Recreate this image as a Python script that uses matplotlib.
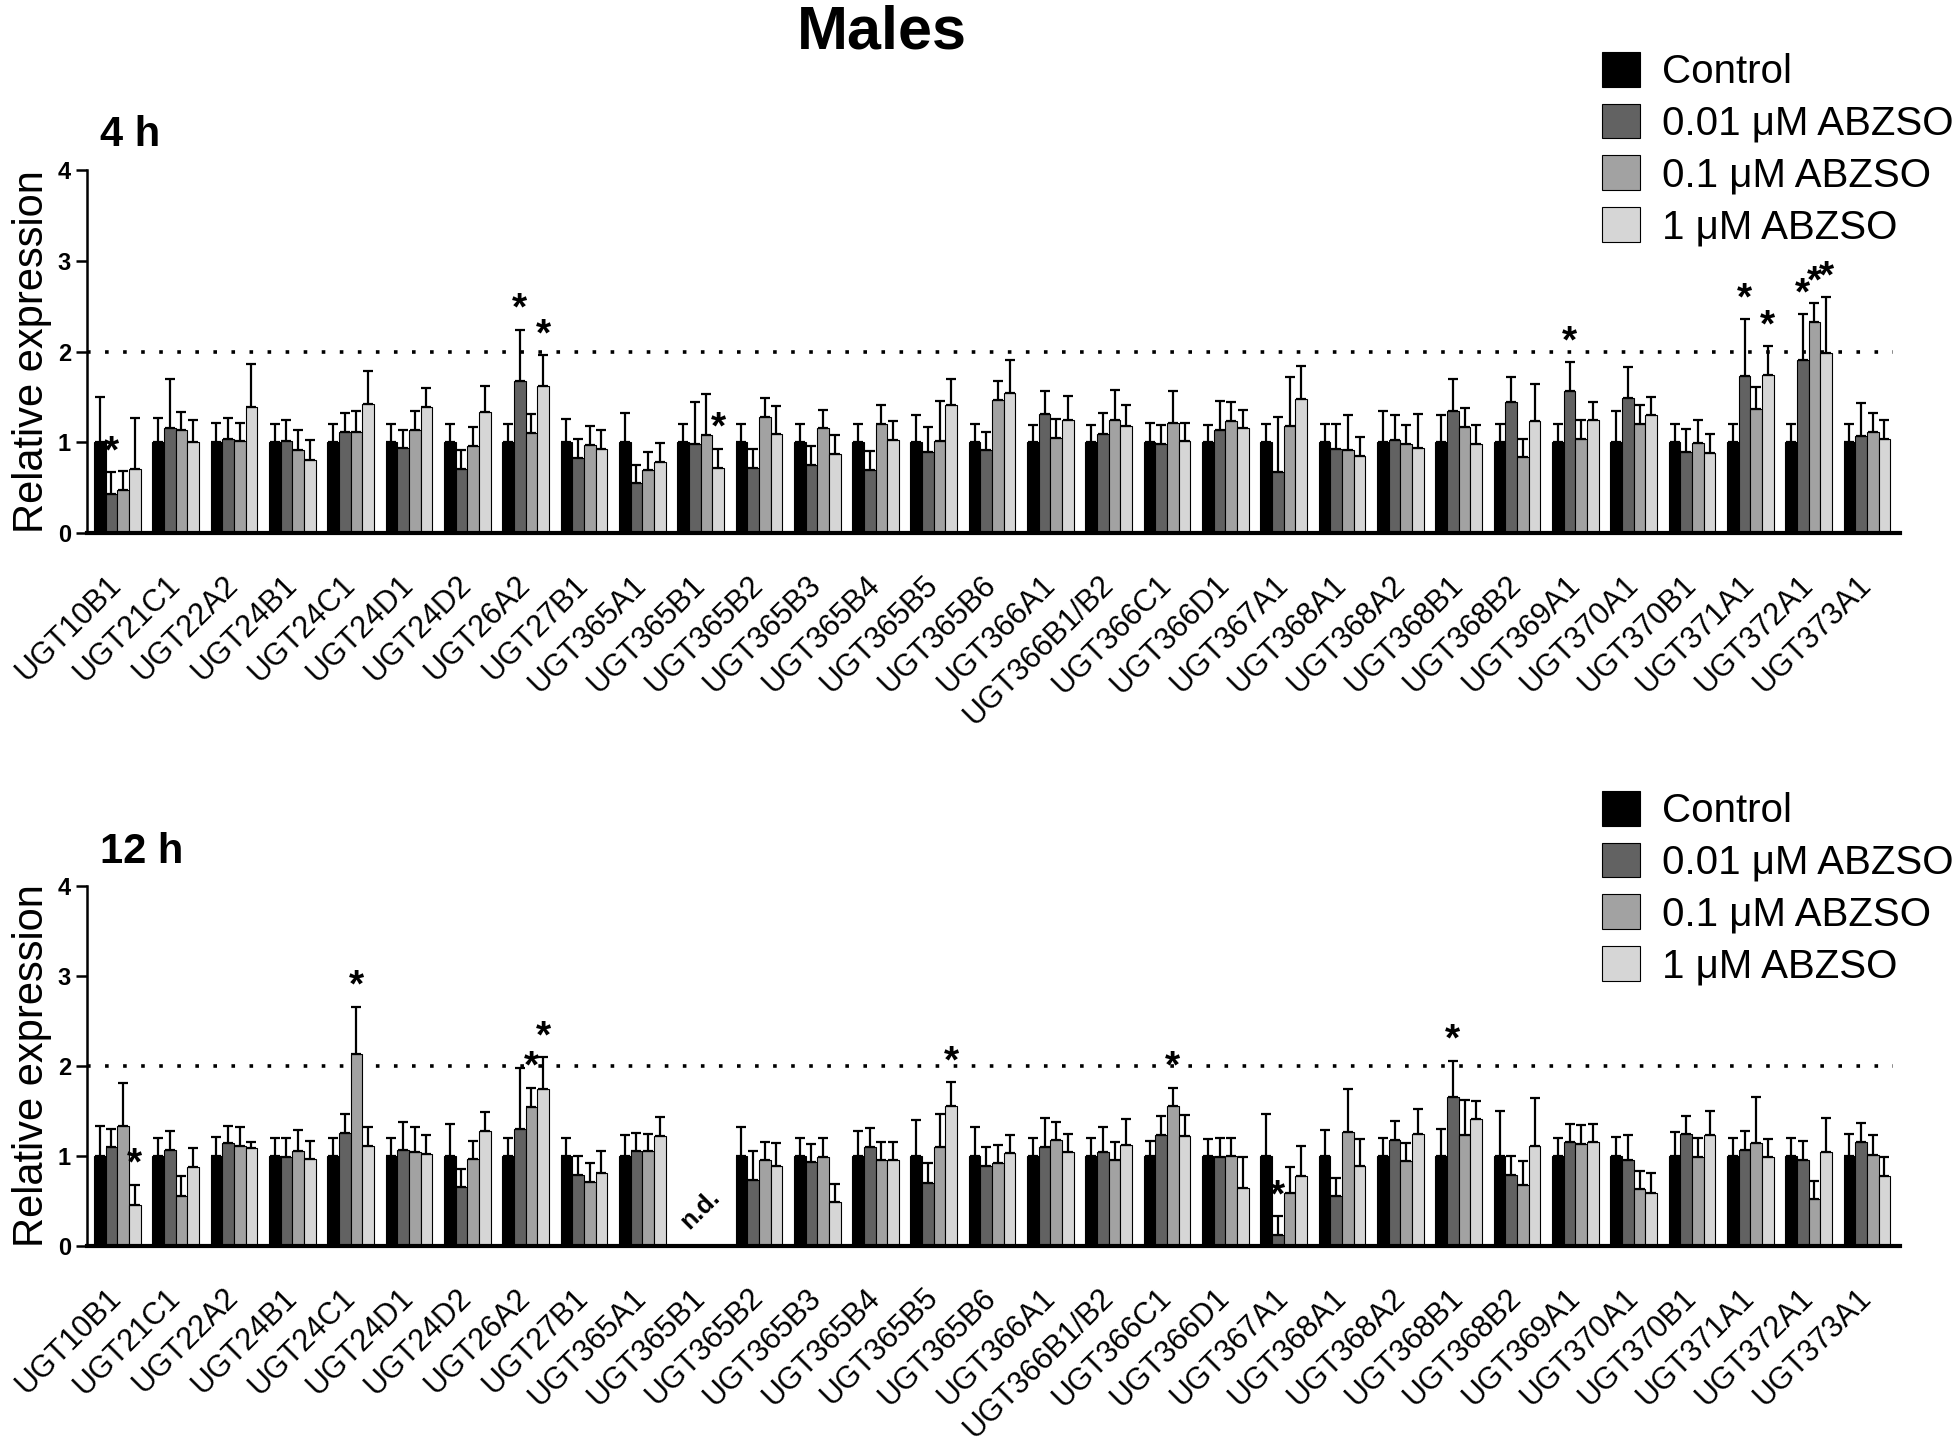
import numpy as np
import matplotlib as mpl
import matplotlib.pyplot as plt
from matplotlib.patches import Patch

mpl.use("Agg")
plt.rcParams['font.family'] = ['Liberation Sans', 'DejaVu Sans']

genes = ["UGT10B1", "UGT21C1", "UGT22A2", "UGT24B1", "UGT24C1", "UGT24D1", "UGT24D2",
         "UGT26A2", "UGT27B1", "UGT365A1", "UGT365B1", "UGT365B2", "UGT365B3", "UGT365B4",
         "UGT365B5", "UGT365B6", "UGT366A1", "UGT366B1/B2", "UGT366C1", "UGT366D1",
         "UGT367A1", "UGT368A1", "UGT368A2", "UGT368B1", "UGT368B2", "UGT369A1",
         "UGT370A1", "UGT370B1", "UGT371A1", "UGT372A1", "UGT373A1"]
groups = ["Control", "0.01 \u03bcM ABZSO", "0.1 \u03bcM ABZSO", "1 \u03bcM ABZSO"]
colors = ["#000000", "#626262", "#a2a2a2", "#d6d6d6"]
nan = np.nan

# ---- 4 h ----
h4_ctrl = [1.0] * 31
h4_ctrl_sd = [0.50, 0.27, 0.21, 0.20, 0.20, 0.20, 0.20, 0.20, 0.26, 0.32, 0.20, 0.20, 0.20, 0.20, 0.30, 0.20,
              0.19, 0.19, 0.21, 0.19, 0.20, 0.20, 0.35, 0.30, 0.20, 0.20, 0.35, 0.20, 0.20, 0.20, 0.20]
h4_001 = [0.43, 1.16, 1.04, 1.01, 1.11, 0.94, 0.71, 1.67, 0.83, 0.55, 0.98, 0.72, 0.75, 0.70, 0.89, 0.91,
          1.31, 1.09, 0.98, 1.13, 0.67, 0.93, 1.02, 1.35, 1.44, 1.57, 1.49, 0.89, 1.73, 1.91, 1.07]
h4_001_sd = [0.24, 0.54, 0.23, 0.24, 0.21, 0.20, 0.21, 0.57, 0.21, 0.20, 0.46, 0.21, 0.21, 0.20, 0.28, 0.20,
             0.25, 0.23, 0.21, 0.33, 0.61, 0.27, 0.28, 0.35, 0.28, 0.31, 0.34, 0.26, 0.63, 0.50, 0.36]
h4_01 = [0.47, 1.13, 1.01, 0.92, 1.11, 1.13, 0.96, 1.10, 0.97, 0.69, 1.08, 1.28, 1.16, 1.20, 1.01, 1.47,
         1.05, 1.25, 1.21, 1.23, 1.18, 0.91, 0.98, 1.17, 0.84, 1.04, 1.20, 0.99, 1.37, 2.33, 1.11]
h4_01_sd = [0.21, 0.20, 0.20, 0.21, 0.23, 0.21, 0.21, 0.21, 0.21, 0.20, 0.45, 0.21, 0.20, 0.21, 0.45, 0.21,
            0.21, 0.33, 0.35, 0.21, 0.54, 0.39, 0.21, 0.21, 0.20, 0.20, 0.21, 0.25, 0.24, 0.21, 0.21]
h4_1 = [0.71, 1.00, 1.39, 0.81, 1.42, 1.39, 1.33, 1.62, 0.93, 0.78, 0.72, 1.09, 0.87, 1.03, 1.41, 1.54,
        1.25, 1.18, 1.01, 1.16, 1.48, 0.85, 0.94, 0.98, 1.23, 1.24, 1.30, 0.88, 1.74, 1.98, 1.04]
h4_1_sd = [0.56, 0.24, 0.47, 0.21, 0.36, 0.21, 0.29, 0.34, 0.20, 0.21, 0.21, 0.31, 0.21, 0.20, 0.29, 0.37,
           0.26, 0.23, 0.20, 0.20, 0.36, 0.21, 0.37, 0.21, 0.41, 0.20, 0.20, 0.21, 0.32, 0.62, 0.20]
h4_sig = [(0, 1), (7, 1), (7, 3), (10, 3), (25, 1), (28, 1), (28, 3), (29, 1), (29, 2), (29, 3)]

# ---- 12 h ---- (UGT365B1 not detected)
h12_ctrl = [1.0] * 10 + [nan] + [1.0] * 20
h12_ctrl_sd = [0.33, 0.20, 0.21, 0.20, 0.20, 0.20, 0.36, 0.20, 0.20, 0.23, nan, 0.32, 0.20, 0.28, 0.40, 0.32,
               0.20, 0.20, 0.17, 0.19, 0.47, 0.29, 0.20, 0.30, 0.50, 0.20, 0.21, 0.27, 0.20, 0.20, 0.24]
h12_001 = [1.10, 1.07, 1.14, 0.99, 1.26, 1.07, 0.66, 1.30, 0.79, 1.06, nan, 0.73, 0.93, 1.10, 0.70, 0.89,
           1.10, 1.04, 1.23, 0.99, 0.12, 0.55, 1.18, 1.66, 0.79, 1.15, 0.96, 1.24, 1.07, 0.96, 1.16]
h12_001_sd = [0.20, 0.21, 0.19, 0.21, 0.21, 0.31, 0.20, 0.68, 0.21, 0.20, nan, 0.33, 0.20, 0.21, 0.22, 0.21,
              0.32, 0.28, 0.21, 0.21, 0.21, 0.20, 0.21, 0.40, 0.21, 0.21, 0.27, 0.20, 0.21, 0.21, 0.21]
h12_01 = [1.33, 0.56, 1.11, 1.05, 2.13, 1.04, 0.97, 1.54, 0.71, 1.05, nan, 0.95, 0.99, 0.95, 1.10, 0.92,
          1.18, 0.95, 1.56, 1.00, 0.59, 1.27, 0.94, 1.23, 0.68, 1.13, 0.63, 0.99, 1.14, 0.52, 1.01]
h12_01_sd = [0.48, 0.22, 0.21, 0.24, 0.53, 0.28, 0.20, 0.22, 0.21, 0.19, nan, 0.20, 0.21, 0.20, 0.37, 0.20,
             0.20, 0.20, 0.20, 0.20, 0.29, 0.47, 0.20, 0.39, 0.26, 0.21, 0.20, 0.21, 0.52, 0.20, 0.22]
h12_1 = [0.46, 0.88, 1.09, 0.97, 1.11, 1.02, 1.28, 1.74, 0.81, 1.22, nan, 0.89, 0.49, 0.95, 1.56, 1.03,
         1.04, 1.12, 1.22, 0.64, 0.78, 0.89, 1.24, 1.41, 1.11, 1.16, 0.59, 1.23, 0.99, 1.04, 0.78]
h12_1_sd = [0.22, 0.21, 0.07, 0.20, 0.21, 0.21, 0.21, 0.36, 0.24, 0.21, nan, 0.25, 0.20, 0.20, 0.26, 0.20,
            0.20, 0.29, 0.24, 0.35, 0.33, 0.30, 0.28, 0.20, 0.53, 0.20, 0.22, 0.27, 0.20, 0.38, 0.21]
h12_sig = [(0, 3), (4, 2), (7, 2), (7, 3), (14, 3), (18, 2), (20, 1), (23, 1)]
h12_nd = [10]

fig = plt.figure(figsize=(19.59, 14.52), dpi=100)
fig.text(0.45, 0.997, "Males", ha="center", va="top", fontsize=44, fontweight="bold")

W = 0.2
x = np.arange(len(genes))


def panel(rect, means, sds, sig, label, legend_top, nd=()):
    ax = fig.add_axes(rect)
    for k, (m, s) in enumerate(zip(means, sds)):
        xs = x - 0.3 + k * W
        ax.bar(xs, m, W, color=colors[k], edgecolor="black", linewidth=0.8, zorder=2)
        ax.errorbar(xs, m, yerr=[np.zeros(len(s)), s], fmt="none", ecolor="black",
                    elinewidth=1.6, capsize=3.5, capthick=1.6, zorder=3)
    for g, k in sig:
        top = means[k][g] + sds[k][g]
        ax.text(x[g] - 0.3 + k * W, top + 0.02, "*", ha="center", va="bottom",
                fontsize=28, fontweight="bold", clip_on=False)
    for g in nd:
        ax.text(x[g], 0.41, "n.d.", ha="center", va="center", rotation=45,
                fontsize=18, fontweight="bold")
    ax.axhline(2, color="black", ls=(0, (1, 4)), lw=2.6, xmax=0.996, zorder=1)
    ax.set_xlim(-0.52, 30.57)
    ax.set_ylim(0, 4)
    ax.set_yticks([0, 1, 2, 3, 4])
    ax.set_yticklabels(["0", "1", "2", "3", "4"], fontweight="bold", fontsize=17)
    ax.set_xticks(x)
    ax.set_xticklabels(genes, rotation=45, ha="right", va="center",
                       rotation_mode="anchor", fontsize=22)
    ax.tick_params(axis="x", length=0, pad=34)
    ax.tick_params(axis="y", length=8, width=1.8, direction="out")
    for sp in ["top", "right"]:
        ax.spines[sp].set_visible(False)
    ax.spines["left"].set_linewidth(1.8)
    ax.spines["bottom"].set_linewidth(3)
    ax.set_ylabel("Relative expression", fontsize=30, labelpad=4)
    ax.text(-0.3, 4.26, label, fontsize=30, fontweight="bold", ha="left", va="baseline")
    handles = [Patch(facecolor=c, edgecolor="black", linewidth=0.8) for c in colors]
    fig.legend(handles, groups, loc="upper left", bbox_to_anchor=(1602 / 1959, legend_top),
               frameon=False, fontsize=29, handlelength=0.95, handleheight=0.95,
               handletextpad=0.55, labelspacing=0.31, borderpad=0, borderaxespad=0)
    return ax


panel([0.0444, 0.6329, 0.9256, 0.25],
      [h4_ctrl, h4_001, h4_01, h4_1], [h4_ctrl_sd, h4_001_sd, h4_01_sd, h4_1_sd],
      h4_sig, "4 h", 1 - 52 / 1452)
panel([0.0444, 0.1419, 0.9256, 0.2479],
      [h12_ctrl, h12_001, h12_01, h12_1], [h12_ctrl_sd, h12_001_sd, h12_01_sd, h12_1_sd],
      h12_sig, "12 h", 1 - 791 / 1452, nd=h12_nd)

fig.savefig("out.png", dpi=100)
